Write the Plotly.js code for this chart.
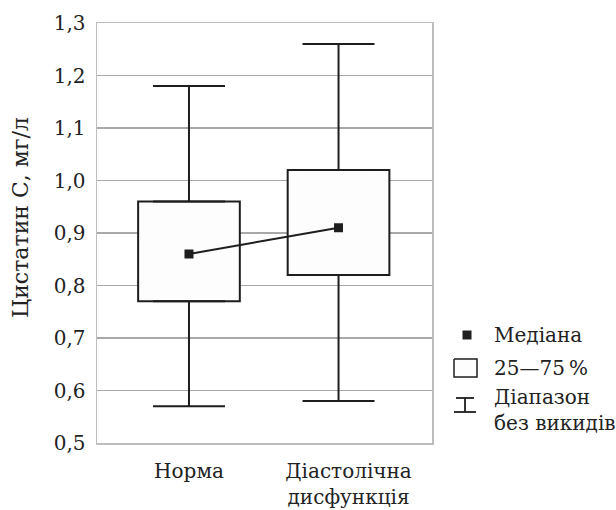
<!DOCTYPE html>
<html>
<head>
<meta charset="utf-8">
<script src="https://cdn.plot.ly/plotly-3.0.1.min.js"></script>
<style>html,body{margin:0;padding:0;background:#fff;}#chart{width:616px;height:510px;}</style>
</head>
<body>
<div id="chart"></div>
<script>
// ---- data ----
const categories = ['Норма', 'Діастолічна дисфункція'];
const tickLabels = ['Норма', '\u2003Діастолічна<br>\u2003дисфункція'];
const minVals    = [0.57, 0.58];
const q1Vals     = [0.77, 0.82];
const medianVals = [0.86, 0.91];
const q3Vals     = [0.96, 1.02];
const maxVals    = [1.18, 1.26];
const yTickVals  = [0.5, 0.6, 0.7, 0.8, 0.9, 1.0, 1.1, 1.2, 1.3];
const yTitle     = 'Цистатин С, мг/л';
const legendLabels = ['Медіана', '25—75\u2009%', 'Діапазон<br>без викидів'];

// ---- style ----
const FONT = '"DejaVu Serif", "Liberation Serif", serif';
const INK = '#1e1e1e';
const TXT = '#222';
const W = 616, H = 510;
const M = {l: 97, r: 0, t: 23, b: 67};
const plotRight = 432;
const legX0 = 440;
const plotW = W - M.l - M.r;

const traces = [];
// boxes (25-75 %)
traces.push({
  type: 'bar', x: categories, base: q1Vals,
  y: q3Vals.map((v, i) => v - q1Vals[i]),
  width: 0.68,
  marker: {color: '#fdfdfd', opacity: 1, line: {color: INK, width: 2}},
  hoverinfo: 'skip', showlegend: false
});
// upper whiskers
traces.push({
  type: 'scatter', mode: 'markers', x: categories, y: q3Vals,
  marker: {size: 1, opacity: 0},
  error_y: {type: 'data', symmetric: false,
    array: maxVals.map((v, i) => v - q3Vals[i]),
    arrayminus: q3Vals.map(() => 0),
    color: INK, thickness: 2, width: 36},
  hoverinfo: 'skip', showlegend: false
});
// lower whiskers
traces.push({
  type: 'scatter', mode: 'markers', x: categories, y: q1Vals,
  marker: {size: 1, opacity: 0},
  error_y: {type: 'data', symmetric: false,
    array: q1Vals.map(() => 0),
    arrayminus: q1Vals.map((v, i) => v - minVals[i]),
    color: INK, thickness: 2, width: 36},
  hoverinfo: 'skip', showlegend: false
});
// median line + markers
traces.push({
  type: 'scatter', mode: 'lines+markers', x: categories, y: medianVals,
  line: {color: INK, width: 2},
  marker: {symbol: 'square', size: 9, color: INK},
  hoverinfo: 'skip', showlegend: false
});

// ---- custom legend (on a hidden pixel-scaled axis pair) ----
traces.push({
  type: 'scatter', mode: 'markers', xaxis: 'x2', yaxis: 'y2',
  x: [467], y: [335], marker: {symbol: 'square', size: 9, color: INK},
  hoverinfo: 'skip', showlegend: false
});
traces.push({
  type: 'scatter', mode: 'lines', xaxis: 'x2', yaxis: 'y2',
  x: [454, 477, 477, 454, 454], y: [359, 359, 377, 377, 359],
  fill: 'toself', fillcolor: '#fdfdfd', line: {color: INK, width: 1.5},
  hoverinfo: 'skip', showlegend: false
});
traces.push({
  type: 'scatter', mode: 'lines', xaxis: 'x2', yaxis: 'y2',
  x: [456, 474, null, 465, 465, null, 454, 476],
  y: [398, 398, null, 398, 412, null, 412, 412],
  line: {color: INK, width: 1.8},
  hoverinfo: 'skip', showlegend: false
});

const layout = {
  width: W, height: H,
  margin: M,
  paper_bgcolor: '#fff', plot_bgcolor: '#fff',
  separators: ', ',
  font: {family: FONT, size: 20, color: TXT},
  showlegend: false,
  barmode: 'overlay',
  xaxis: {
    type: 'category', domain: [0, (plotRight - M.l) / plotW],
    range: [-0.615, 1.625], fixedrange: true,
    tickvals: categories, ticktext: tickLabels,
    showgrid: false, zeroline: false, ticks: '',
    showline: true, mirror: true, linecolor: '#bdbdbd', linewidth: 1.5,
    tickfont: {family: FONT, size: 20, color: TXT},
    ticklabelstandoff: 9
  },
  yaxis: {
    range: [0.5, 1.3], tickvals: yTickVals, tickformat: '.1f',
    showgrid: true, gridcolor: '#a9a9a9', gridwidth: 1.5,
    zeroline: false, ticks: '',
    showline: true, mirror: true, linecolor: '#bdbdbd', linewidth: 1.5,
    tickfont: {family: FONT, size: 20, color: TXT},
    ticklabelstandoff: 6
  },
  xaxis2: {domain: [(legX0 - M.l) / plotW, 1], range: [legX0, W], visible: false, fixedrange: true, anchor: 'y2'},
  yaxis2: {domain: [0, 1], range: [H - M.b, M.t], visible: false, fixedrange: true, anchor: 'x2'},
  annotations: [
    {xref: 'paper', yref: 'y2', x: (20 - M.l) / plotW, y: 218, text: yTitle, textangle: -90,
     showarrow: false, xanchor: 'center', yanchor: 'middle', font: {family: FONT, size: 22, color: TXT}},
    {xref: 'x2', yref: 'y2', x: 492, y: 335, text: legendLabels[0], showarrow: false, xanchor: 'left', yanchor: 'middle', align: 'left'},
    {xref: 'x2', yref: 'y2', x: 492, y: 368, text: legendLabels[1], showarrow: false, xanchor: 'left', yanchor: 'middle', align: 'left'},
    {xref: 'x2', yref: 'y2', x: 492, y: 410, text: legendLabels[2], showarrow: false, xanchor: 'left', yanchor: 'middle', align: 'left'}
  ]
};

Plotly.newPlot('chart', traces, layout, {staticPlot: true, displayModeBar: false});
</script>
</body>
</html>
